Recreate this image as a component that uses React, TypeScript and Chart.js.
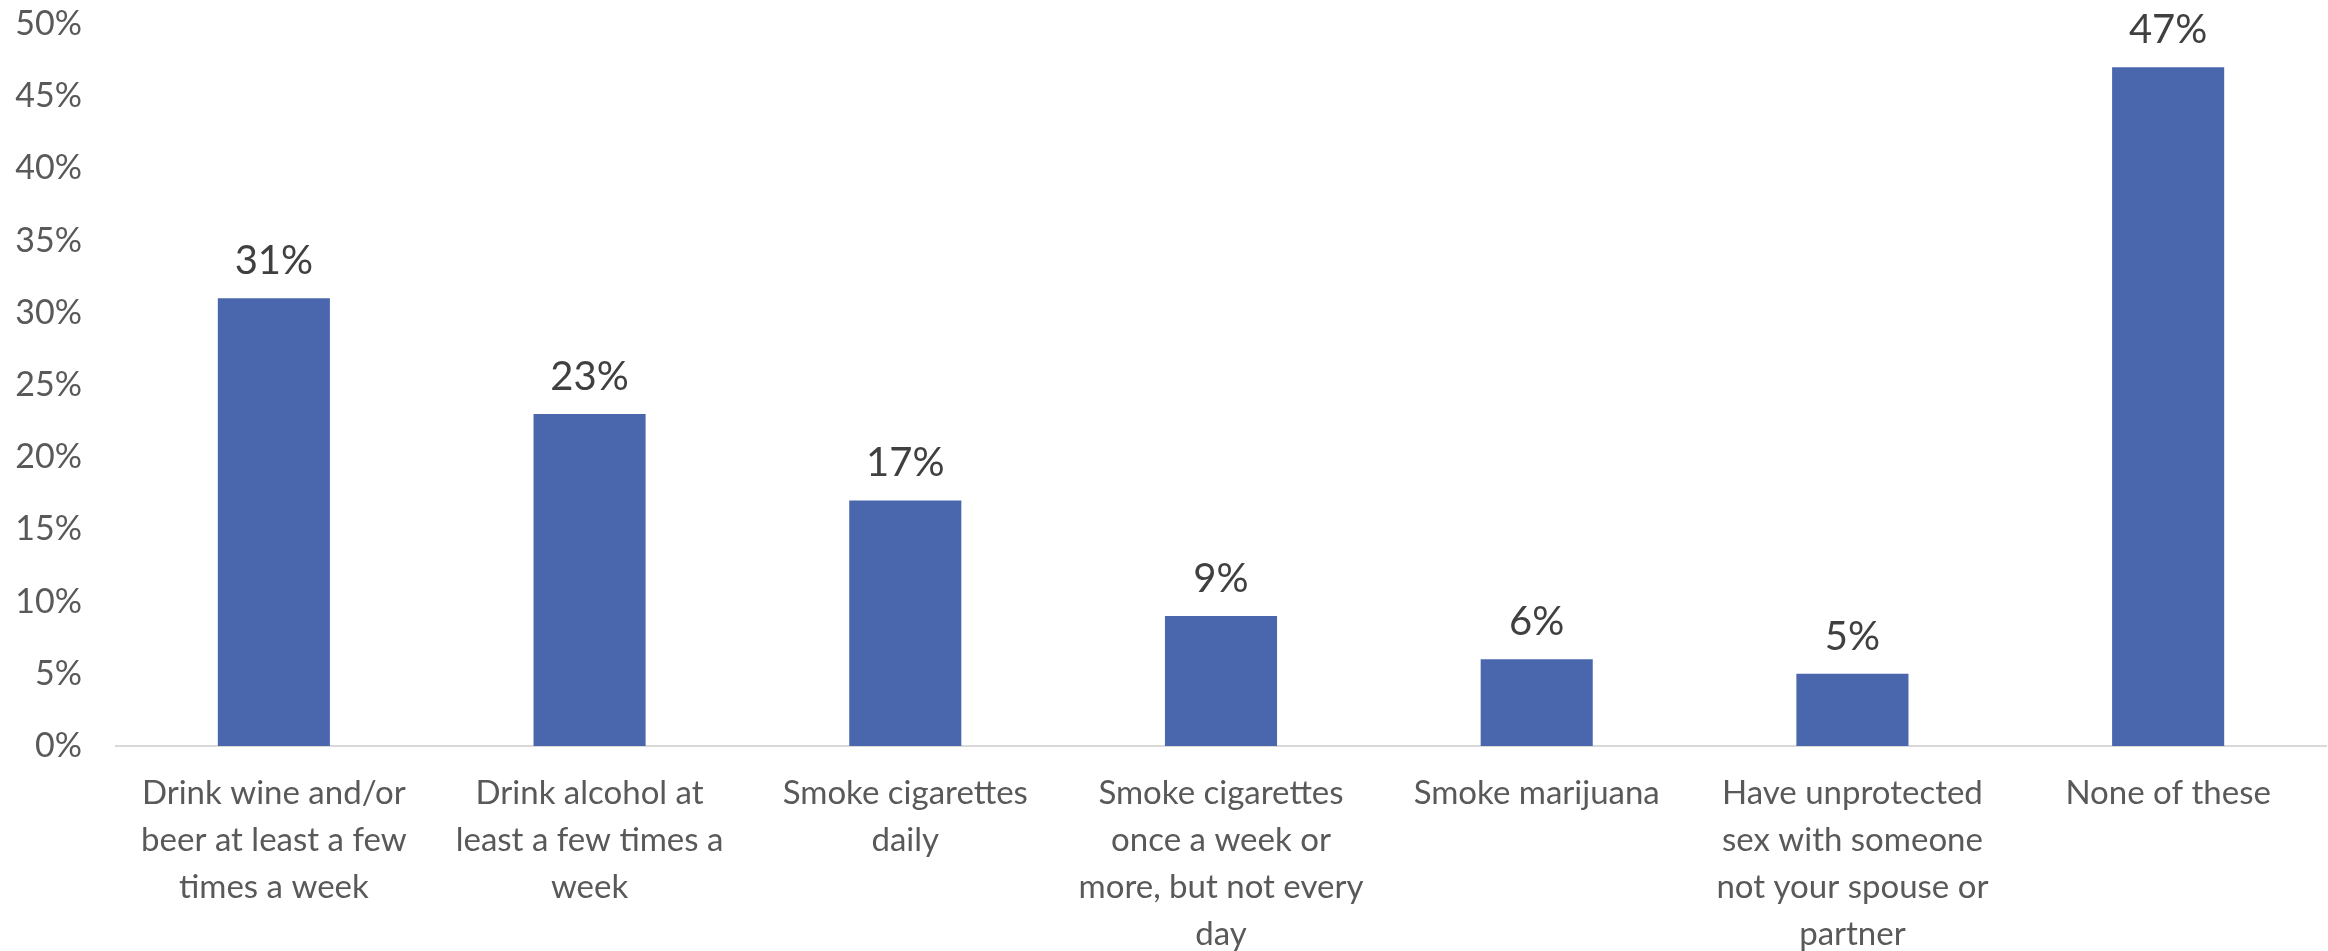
import React, { useEffect, useRef } from "react";
import { Chart, registerables } from "chart.js";

Chart.register(...registerables);

const categories: string[][] = [
  ["Drink wine and/or", "beer at least a few", "times a week"],
  ["Drink alcohol at", "least a few times a", "week"],
  ["Smoke cigarettes", "daily"],
  ["Smoke cigarettes", "once a week or", "more, but not every", "day"],
  ["Smoke marijuana"],
  ["Have unprotected", "sex with someone", "not your spouse or", "partner"],
  ["None of these"],
];
const values: number[] = [31, 23, 17, 9, 6, 5, 47];
const yTicks: number[] = [0, 5, 10, 15, 20, 25, 30, 35, 40, 45, 50];

const FONT = "Lato, 'Open Sans', sans-serif";

const dataLabelPlugin = {
  id: "dataLabels",
  afterDatasetsDraw(chart: any) {
    const ctx = chart.ctx;
    const meta = chart.getDatasetMeta(0);
    ctx.save();
    ctx.font = `40px ${FONT}`;
    ctx.fillStyle = "#404040";
    ctx.textAlign = "center";
    ctx.textBaseline = "bottom";
    meta.data.forEach((bar: any, i: number) => {
      ctx.fillText(`${values[i]}%`, bar.x, bar.y - 17);
    });
    ctx.restore();
  },
};

export default function App() {
  const ref = useRef<HTMLCanvasElement | null>(null);
  useEffect(() => {
    document.body.style.margin = "0";
    if (!ref.current) return;
    const chart = new Chart(ref.current, {
      type: "bar",
      data: {
        labels: categories,
        datasets: [
          {
            data: values,
            backgroundColor: "#4a66ad",
            borderWidth: 0,
            categoryPercentage: 1,
            barPercentage: 0.355,
          },
        ],
      },
      options: {
        responsive: false,
        animation: false,
        devicePixelRatio: 1,
        layout: { padding: { top: 24, right: 2, left: 0, bottom: 0 } },
        plugins: { legend: { display: false }, tooltip: { enabled: false } },
        scales: {
          x: {
            grid: { display: false, drawTicks: false },
            border: { display: true, color: "#d9d9d9", width: 2 },
            ticks: {
              color: "#595959",
              font: { family: FONT, size: 33, lineHeight: 1.42 },
              padding: 24,
              maxRotation: 0,
              autoSkip: false,
            },
            afterFit(scale: any) {
              scale.height = 205;
            },
          },
          y: {
            min: 0,
            max: 50,
            afterBuildTicks(scale: any) {
              scale.ticks = yTicks.map((v) => ({ value: v }));
            },
            grid: { display: false, drawTicks: false },
            border: { display: false },
            ticks: {
              color: "#595959",
              font: { family: FONT, size: 34 },
              padding: 34,
              callback: (v: any) => `${v}%`,
            },
            afterFit(scale: any) {
              scale.width = 116;
              scale.paddingTop = 0;
              scale.paddingBottom = 0;
            },
          },
        },
      },
      plugins: [dataLabelPlugin],
    });
    return () => chart.destroy();
  }, []);
  return (
    <div style={{ width: 2328, height: 951 }}>
      <canvas ref={ref} width={2328} height={951} style={{ display: "block" }} />
    </div>
  );
}
